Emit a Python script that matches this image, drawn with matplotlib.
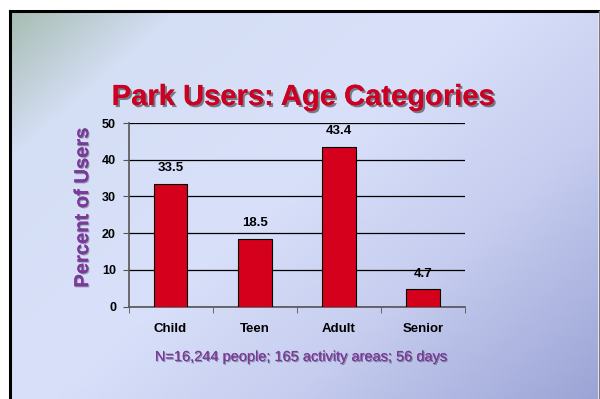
import matplotlib
matplotlib.use("Agg")
import matplotlib.pyplot as plt
import matplotlib.patheffects as pe
from matplotlib.colors import LinearSegmentedColormap
import numpy as np

plt.rcParams['font.family'] = ['Liberation Sans', 'DejaVu Sans']

# ---------------- data ----------------
categories = ['Child', 'Teen', 'Adult', 'Senior']
percent = [33.5, 18.5, 43.4, 4.7]
yticks = [0, 10, 20, 30, 40, 50]
title = 'Park Users: Age Categories'
ylabel = 'Percent of Users'
note = 'N=16,244 people; 165 activity areas; 56 days'

W, H = 600, 399
fig = plt.figure(figsize=(W / 100, H / 100), dpi=100)
fig.patch.set_facecolor('white')

# ---------------- slide background ----------------
bg = fig.add_axes([0, 0, 1, 1])
bg.set_xlim(0, W)
bg.set_ylim(H, 0)
bg.axis('off')
gx, gy = np.meshgrid(np.linspace(0, 1, 300), np.linspace(0, 1, 200))
t = np.clip((gx * 1.0 + gy * 0.75) / 1.75, 0, 1)
cmap = LinearSegmentedColormap.from_list(
    'slide', [(0, '#a7bdb2'), (0.16, '#d4def4'), (0.45, '#d9e1fa'),
              (0.7, '#c6cdef'), (1, '#9ca4d6')])
bg.imshow(t, cmap=cmap, extent=(10, W - 2, H, 11), aspect='auto',
          interpolation='bilinear', zorder=0)
bg.plot([10, 10], [H, 11], color='black', lw=2.2, zorder=2)
bg.plot([10, W - 2], [11, 11], color='black', lw=2.2, zorder=2)
bg.plot([W - 1.5, W - 1.5], [11, H], color='#7a7a8a', lw=1, zorder=2)

shadow = [pe.withSimplePatchShadow(offset=(1.5, -1.5), shadow_rgbFace='black', alpha=0.45),
          pe.Normal()]
bg.text(303, 97, title, ha='center', va='center', fontsize=21, fontweight='bold',
        color='#cc0022', path_effects=shadow, zorder=3)
bg.text(302, 357, note, ha='center', va='center', fontsize=10.5,
        color='#7a3a9a',
        path_effects=[pe.withSimplePatchShadow(offset=(0.8, -0.8), shadow_rgbFace='black', alpha=0.35),
                      pe.Normal()], zorder=3)

# ---------------- chart ----------------
x0, x1, ytop, ybot = 128.5, 465, 123, 306.5
ax = fig.add_axes([x0 / W, 1 - ybot / H, (x1 - x0) / W, (ybot - ytop) / H])
ax.patch.set_alpha(0)
pos = np.arange(len(categories))
bars = ax.bar(pos, percent, width=0.4, color='#d4001c', edgecolor='black', lw=0.8, zorder=3)
ax.set_xlim(-0.5, len(categories) - 0.5)
ax.set_ylim(0, 50)
ax.set_yticks(yticks)
ax.set_yticklabels([str(v) for v in yticks], fontsize=9, fontweight='bold')
ax.yaxis.grid(True, color='black', lw=0.9, zorder=1)
ax.set_xticks(pos)
ax.set_xticklabels(categories, fontsize=9.5, fontweight='bold')
ax.tick_params(axis='x', length=0, pad=12)
ax.set_xticks(np.arange(len(categories) + 1) - 0.5, minor=True)
ax.tick_params(axis='x', which='minor', length=4, color='#555555', direction='out')
ax.tick_params(axis='y', length=4, color='#555555', pad=5)
for s in ['top', 'right']:
    ax.spines[s].set_visible(False)
ax.spines['left'].set_color('#555555')
ax.spines['bottom'].set_color('#555555')
ax.spines['left'].set_linewidth(1.2)
ax.spines['bottom'].set_linewidth(1.2)

for b, v in zip(bars, percent):
    ax.annotate(f'{v}', (b.get_x() + b.get_width() / 2, v), xytext=(0, 7),
                textcoords='offset points', ha='center', va='bottom',
                fontsize=9.5, fontweight='bold', zorder=4)

ax.set_ylabel(ylabel, fontsize=14.5, fontweight='bold', color='#7a3a9a',
              path_effects=[pe.withSimplePatchShadow(offset=(0.8, -0.8), shadow_rgbFace='black', alpha=0.3),
                            pe.Normal()])
ax.yaxis.set_label_coords(-0.108, 0.54)

fig.savefig('out.png', dpi=100)
